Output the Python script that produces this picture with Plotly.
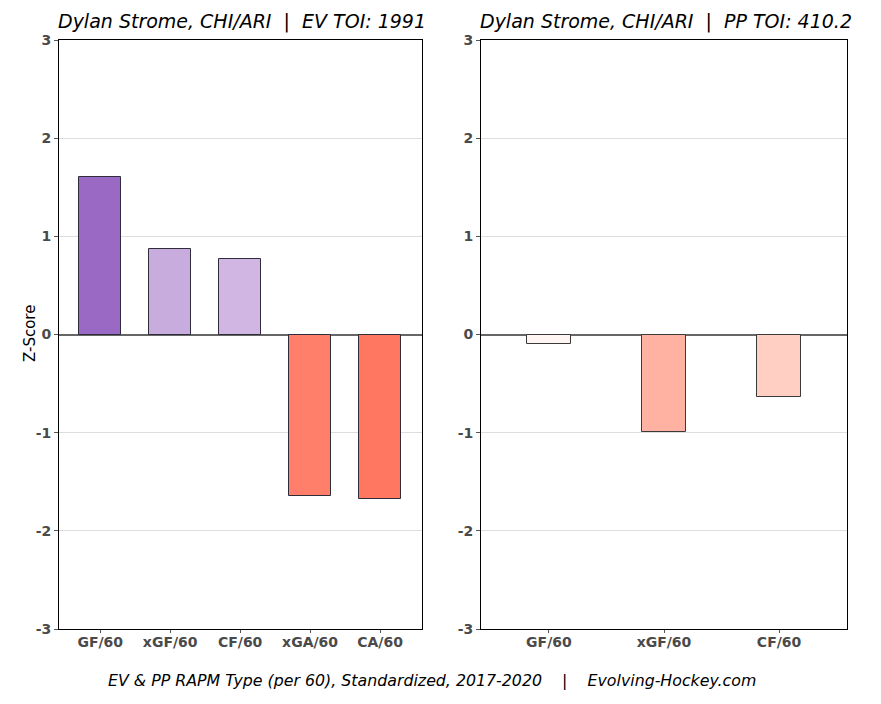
import plotly.graph_objects as go

W, H = 881, 704

ev_cats = ["GF/60", "xGF/60", "CF/60", "xGA/60", "CA/60"]
ev_vals = [1.60, 0.87, 0.77, -1.645, -1.675]
ev_colors = ["#9a69c3", "#c8acde", "#d1b5e2", "#ff7f6a", "#ff7661"]

pp_cats = ["GF/60", "xGF/60", "CF/60"]
pp_vals = [-0.10, -0.99, -0.635]
pp_colors = ["#fff5f2", "#ffb2a2", "#ffcfc4"]

ev_title = "Dylan Strome, CHI/ARI  |  EV TOI: 1991"
pp_title = "Dylan Strome, CHI/ARI  |  PP TOI: 410.2"
caption = "EV & PP RAPM Type (per 60), Standardized, 2017-2020    |    Evolving-Hockey.com"
y_title = "Z-Score"
y_ticks = [-3, -2, -1, 0, 1, 2, 3]

# plot area in pixels
L, R, T, B = 59, 881 - 847, 40, 704 - 629
PW, PH = W - L - R, H - T - B


def px(xp):
    return (xp - L) / PW


def py(yp):
    return (H - B - yp) / PH


fig = go.Figure()
fig.add_trace(go.Bar(x=ev_cats, y=ev_vals, marker=dict(color=ev_colors, line=dict(color="#2e2e3a", width=1)),
                     width=0.6, xaxis="x", yaxis="y", showlegend=False))
fig.add_trace(go.Bar(x=pp_cats, y=pp_vals, marker=dict(color=pp_colors, line=dict(color="#3a3a3a", width=1)),
                     width=0.38, xaxis="x2", yaxis="y2", showlegend=False))

tickfont = dict(family="DejaVu Sans", size=14, color="#4a4a4a", weight="bold")
yax = dict(range=[-3, 3], tickvals=y_ticks, ticktext=[str(v) for v in y_ticks], tickfont=tickfont,
           showgrid=True, gridcolor="#dddddd", gridwidth=1, zeroline=True, zerolinecolor="#666666",
           zerolinewidth=2, showline=True, linecolor="black", linewidth=1, mirror=True,
           ticks="outside", ticklen=4, tickcolor="#555555", domain=[0, 1], fixedrange=True, automargin=False)
xax = dict(tickfont=tickfont, showline=True, linecolor="black", linewidth=1, mirror=True,
           ticks="outside", ticklen=3, tickcolor="#555555", showgrid=False, fixedrange=True, automargin=False,
           ticklabelstandoff=-3)

fig.update_layout(
    width=W, height=H, margin=dict(l=L, r=R, t=T, b=B, autoexpand=False),
    paper_bgcolor="white", plot_bgcolor="white",
    font=dict(family="DejaVu Sans"),
    xaxis=dict(xax, domain=[0, px(422)], range=[-0.59, 4.6], anchor="y"),
    yaxis=dict(yax, anchor="x"),
    xaxis2=dict(xax, domain=[px(481), 1], range=[-0.59, 2.59], anchor="y2"),
    yaxis2=dict(yax, anchor="x2"),
    bargap=0,
    annotations=[
        dict(text="<i>" + ev_title + "</i>", x=px(242), y=py(22), xref="paper", yref="paper",
             showarrow=False, font=dict(family="DejaVu Sans", size=19, color="black"), xanchor="center", yanchor="middle"),
        dict(text="<i>" + pp_title + "</i>", x=px(666), y=py(22), xref="paper", yref="paper",
             showarrow=False, font=dict(family="DejaVu Sans", size=19, color="black"), xanchor="center", yanchor="middle"),
        dict(text="<i>" + caption + "</i>", x=px(432), y=py(680), xref="paper", yref="paper",
             showarrow=False, font=dict(family="DejaVu Sans", size=15.8, color="black"), xanchor="center", yanchor="middle"),
        dict(text=y_title, x=px(30), y=py(334), xref="paper", yref="paper", textangle=-90,
             showarrow=False, font=dict(family="DejaVu Sans", size=15, color="black"), xanchor="center", yanchor="middle"),
    ],
)

fig.write_html("out.html")
